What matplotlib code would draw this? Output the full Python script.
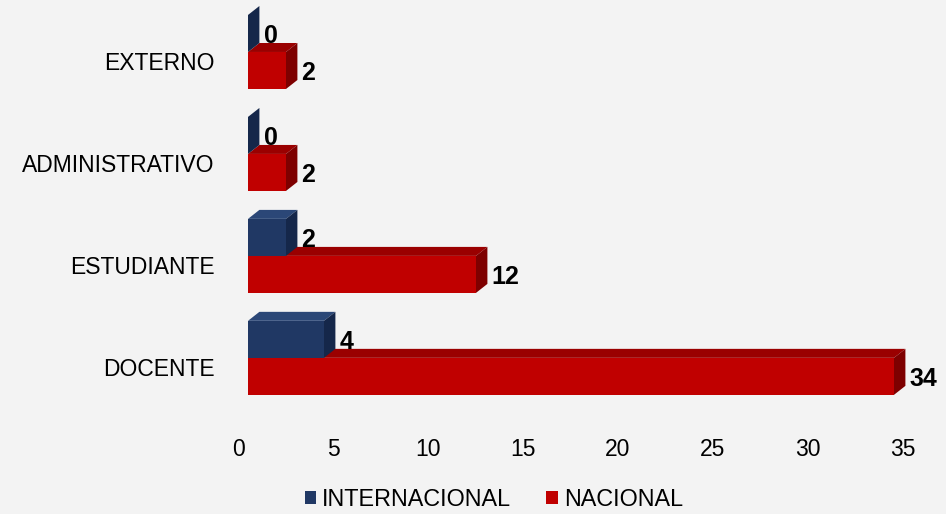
import matplotlib.pyplot as plt
import matplotlib.transforms as mtransforms
from matplotlib.patches import Rectangle, Polygon, Patch

plt.rcParams['font.family'] = ['Liberation Sans', 'DejaVu Sans']

# datos
categorias = ['DOCENTE', 'ESTUDIANTE', 'ADMINISTRATIVO', 'EXTERNO']
internacional = [4, 2, 0, 0]
nacional = [34, 12, 2, 2]
xticks = [0, 5, 10, 15, 20, 25, 30, 35]

# colores: frente, arriba, lado
azul = ('#203864', '#2b4777', '#15274a')
rojo = ('#c00000', '#9a0000', '#7e0000')

fig = plt.figure(figsize=(9.46, 5.14), dpi=100)
fig.patch.set_facecolor('#f3f3f3')
ax = fig.add_axes([248 / 946, (514 - 419) / 514, 665 / 946, 418 / 514])
ax.set_facecolor('none')
ax.set_xlim(0, 35)
ax.set_ylim(-0.6, 3.5)

h = 0.363   # alto de cada barra
dx = 0.6    # profundidad en x
dy = 0.088  # profundidad en y


def barra3d(v, y0, cols):
    fr, tp, sd = cols
    ax.add_patch(Rectangle((0, y0), v, h, facecolor=fr, edgecolor='none'))
    ax.add_patch(Polygon([(0, y0 + h), (v, y0 + h), (v + dx, y0 + h + dy), (dx, y0 + h + dy)],
                         facecolor=tp, edgecolor='none'))
    ax.add_patch(Polygon([(v, y0), (v + dx, y0 + dy), (v + dx, y0 + h + dy), (v, y0 + h)],
                         facecolor=sd, edgecolor='none'))


for i in range(len(categorias)):
    # nacional abajo, internacional arriba
    barra3d(nacional[i], i - h, rojo)
    barra3d(internacional[i], i, azul)

for i in range(len(categorias)):
    ax.annotate(str(nacional[i]), xy=(nacional[i] + dx, i - h / 2), xytext=(3, -2),
                textcoords='offset points', ha='left', va='center',
                fontsize=18, fontweight='bold', annotation_clip=False)
    ax.annotate(str(internacional[i]), xy=(internacional[i] + dx, i + h / 2), xytext=(3, -2),
                textcoords='offset points', ha='left', va='center',
                fontsize=18, fontweight='bold', annotation_clip=False)

ax.set_yticks(range(len(categorias)))
ax.set_yticklabels(categorias, fontsize=16.5)
ax.set_xticks(xticks)
ax.set_xticklabels([str(t) for t in xticks], fontsize=16.5)
ax.tick_params(axis='both', length=0)
ax.tick_params(axis='x', pad=14)
ax.tick_params(axis='y', pad=24)
for s in ax.spines.values():
    s.set_visible(False)

# desplazar etiquetas como en el original
off_x = mtransforms.ScaledTranslation(-10 / 100, 0, fig.dpi_scale_trans)
for lb in ax.get_xticklabels():
    lb.set_transform(lb.get_transform() + off_x)
off_y = mtransforms.ScaledTranslation(0, -9 / 100, fig.dpi_scale_trans)
for lb in ax.get_yticklabels():
    lb.set_transform(lb.get_transform() + off_y)

handles = [Patch(facecolor=azul[0], label='INTERNACIONAL'),
           Patch(facecolor=rojo[0], label='NACIONAL')]
fig.legend(handles=handles, loc='center', bbox_to_anchor=(0.522, 0.029), ncol=2,
           frameon=False, fontsize=16.8, handlelength=0.5, handleheight=0.5,
           handletextpad=0.25, columnspacing=1.5, borderpad=0)

fig.savefig('out.png', dpi=100, facecolor=fig.get_facecolor())
